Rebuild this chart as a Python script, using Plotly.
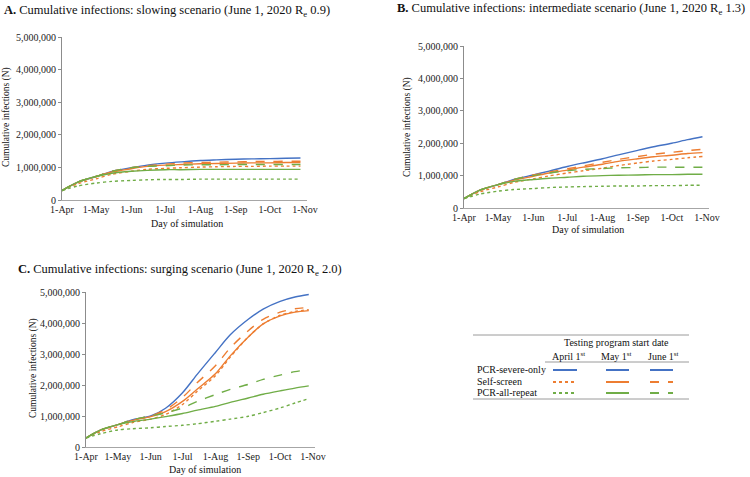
import plotly.graph_objects as go

dates = ["2020-04-01","2020-04-15","2020-05-01","2020-05-15","2020-06-01","2020-06-15",
         "2020-07-01","2020-07-15","2020-08-01","2020-08-15","2020-09-01","2020-09-15",
         "2020-10-01","2020-10-15","2020-10-28"]

# Panel A (millions)
a_blue      = [0.29,0.55,0.72,0.88,0.99,1.07,1.13,1.17,1.21,1.23,1.25,1.26,1.27,1.28,1.29]
a_or_dot    = [0.29,0.50,0.65,0.79,0.88,0.94,0.97,0.99,1.01,1.02,1.03,1.03,1.04,1.04,1.04]
a_or_sol    = [0.29,0.55,0.72,0.86,0.96,1.03,1.07,1.09,1.11,1.12,1.13,1.14,1.14,1.15,1.15]
a_or_dash   = [0.29,0.55,0.72,0.88,0.99,1.05,1.10,1.13,1.15,1.16,1.17,1.18,1.18,1.19,1.19]
a_gr_dot    = [0.29,0.43,0.52,0.57,0.60,0.62,0.63,0.63,0.64,0.64,0.64,0.64,0.64,0.64,0.64]
a_gr_sol    = [0.29,0.55,0.72,0.82,0.88,0.91,0.93,0.93,0.94,0.94,0.94,0.94,0.94,0.94,0.94]
a_gr_dash   = [0.29,0.55,0.72,0.88,0.99,1.03,1.05,1.07,1.08,1.08,1.09,1.09,1.09,1.09,1.09]

# Panel B
b_blue      = [0.29,0.55,0.72,0.88,1.02,1.14,1.28,1.39,1.52,1.64,1.78,1.89,2.00,2.11,2.20]
b_or_dot    = [0.29,0.50,0.65,0.79,0.90,0.99,1.08,1.15,1.23,1.31,1.39,1.45,1.50,1.55,1.59]
b_or_sol    = [0.29,0.55,0.72,0.86,0.98,1.08,1.17,1.26,1.35,1.44,1.52,1.58,1.63,1.68,1.71]
b_or_dash   = [0.29,0.55,0.72,0.88,1.02,1.11,1.21,1.30,1.41,1.50,1.59,1.66,1.72,1.77,1.81]
b_gr_dot    = [0.29,0.43,0.52,0.57,0.60,0.63,0.65,0.66,0.67,0.68,0.68,0.69,0.69,0.70,0.70]
b_gr_sol    = [0.29,0.55,0.72,0.82,0.88,0.92,0.95,0.98,1.00,1.01,1.02,1.03,1.03,1.04,1.04]
b_gr_dash   = [0.29,0.55,0.72,0.88,1.00,1.08,1.15,1.19,1.22,1.24,1.25,1.26,1.26,1.26,1.26]

# Panel C
c_blue      = [0.29,0.55,0.72,0.88,1.00,1.25,1.75,2.35,3.05,3.62,4.12,4.45,4.70,4.84,4.92]
c_or_dot    = [0.29,0.50,0.65,0.79,0.90,1.05,1.37,1.80,2.30,2.90,3.55,3.97,4.25,4.37,4.43]
c_or_sol    = [0.29,0.55,0.72,0.86,0.98,1.14,1.47,1.87,2.36,2.94,3.55,3.97,4.23,4.35,4.40]
c_or_dash   = [0.29,0.55,0.72,0.88,1.00,1.20,1.60,2.08,2.62,3.20,3.75,4.12,4.35,4.46,4.50]
c_gr_dot    = [0.29,0.43,0.55,0.59,0.62,0.66,0.70,0.75,0.83,0.90,0.99,1.11,1.26,1.42,1.56]
c_gr_sol    = [0.29,0.55,0.72,0.82,0.90,0.98,1.08,1.19,1.31,1.44,1.58,1.70,1.81,1.90,1.97]
c_gr_dash   = [0.29,0.55,0.72,0.88,1.00,1.10,1.26,1.47,1.69,1.86,2.02,2.18,2.32,2.43,2.49]

panel_titles = [
    "<b>A.</b> Cumulative infections: slowing scenario (June 1, 2020 R<sub>e</sub> 0.9)",
    "<b>B.</b> Cumulative infections: intermediate scenario (June 1, 2020 R<sub>e</sub> 1.3)",
    "<b>C.</b> Cumulative infections: surging scenario (June 1, 2020 R<sub>e</sub> 2.0)",
]
y_ticks = [0, 1000000, 2000000, 3000000, 4000000, 5000000]
row_labels = ["PCR-severe-only", "Self-screen", "PCR-all-repeat"]
col_labels = ["April 1<sup>st</sup>", "May 1<sup>st</sup>", "June 1<sup>st</sup>"]

BLUE, ORANGE, GREEN = "#4472C4", "#ED7D31", "#70AD47"
FONT = "Liberation Serif, Times New Roman, serif"
W, H = 750, 477

panels = [
    dict(data=[(a_blue,BLUE,"solid"),(a_or_dot,ORANGE,"dot"),(a_or_sol,ORANGE,"solid"),(a_or_dash,ORANGE,"dash"),
               (a_gr_dot,GREEN,"dot"),(a_gr_sol,GREEN,"solid"),(a_gr_dash,GREEN,"dash")],
         x0=62, xnov=305, y0=200, y5=37),
    dict(data=[(b_blue,BLUE,"solid"),(b_or_dot,ORANGE,"dot"),(b_or_sol,ORANGE,"solid"),(b_or_dash,ORANGE,"dash"),
               (b_gr_dot,GREEN,"dot"),(b_gr_sol,GREEN,"solid"),(b_gr_dash,GREEN,"dash")],
         x0=464, xnov=707, y0=208, y5=46),
    dict(data=[(c_blue,BLUE,"solid"),(c_or_dot,ORANGE,"dot"),(c_or_sol,ORANGE,"solid"),(c_or_dash,ORANGE,"dash"),
               (c_gr_dot,GREEN,"dot"),(c_gr_sol,GREEN,"solid"),(c_gr_dash,GREEN,"dash")],
         x0=86, xnov=313, y0=447, y5=292),
]

fig = go.Figure()
layout = dict(width=W, height=H, margin=dict(l=0, r=0, t=0, b=0, autoexpand=False),
              paper_bgcolor="white", plot_bgcolor="white", showlegend=False,
              font=dict(family=FONT, color="#222", size=10))
for i, p in enumerate(panels):
    k = "" if i == 0 else str(i + 1)
    for vals, col, dash in p["data"]:
        fig.add_trace(go.Scatter(x=dates, y=[v * 1e6 for v in vals], mode="lines",
                                 line=dict(color=col, width=1.4, dash=dash, shape="spline", smoothing=0.8),
                                 xaxis="x" + k, yaxis="y" + k, hoverinfo="skip"))
    span = (p["xnov"] - p["x0"]) * 216 / 214
    layout["xaxis" + k] = dict(domain=[p["x0"] / W, (p["x0"] + span) / W], anchor="y" + k,
                               type="date", range=["2020-04-01", "2020-11-03"],
                               tickvals=["2020-04-01","2020-05-01","2020-06-01","2020-07-01",
                                         "2020-08-01","2020-09-01","2020-10-01","2020-11-01"],
                               tickformat="%-d-%b", showline=True, linecolor="#A6A6A6",
                               showgrid=False, zeroline=False, ticks="", automargin=False,
                               tickfont=dict(size=10, family=FONT))
    layout["yaxis" + k] = dict(domain=[(H - p["y0"]) / H, (H - p["y5"]) / H], anchor="x" + k,
                               range=[0, 5e6], tickvals=y_ticks, tickformat=",", showline=True,
                               linecolor="#8C8C8C", showgrid=False, zeroline=False, ticks="outside",
                               ticklen=3, tickcolor="#8C8C8C", automargin=False,
                               tickfont=dict(size=10, family=FONT))

fig.update_layout(**layout)

ann = []
def A(x, y, text, size=10, xanchor="center", yanchor="middle", angle=0):
    ann.append(dict(x=x / W, y=1 - y / H, xref="paper", yref="paper", text=text, showarrow=False,
                    xanchor=xanchor, yanchor=yanchor, textangle=angle,
                    font=dict(family=FONT, size=size, color="#111")))

A(2, 11, panel_titles[0], size=12.5, xanchor="left")
A(395, 9, panel_titles[1], size=12.5, xanchor="left")
A(16, 270, panel_titles[2], size=12.5, xanchor="left")
A(7, 117, "Cumulative infections (N)", size=9.5, angle=-90)
A(408, 127, "Cumulative infections (N)", size=9.5, angle=-90)
A(33, 368, "Cumulative infections (N)", size=9.5, angle=-90)
A(187, 223, "Day of simulation", size=10)
A(588, 229, "Day of simulation", size=10)
A(205, 469, "Day of simulation", size=10)

# Legend table
A(616, 342, "Testing program start date", size=10)
col_x = [568, 616, 663]
for cx, lab in zip(col_x, col_labels):
    A(cx, 356, lab, size=10)
row_y = [369, 381, 392]
for ry, lab in zip(row_y, row_labels):
    A(475, ry, lab, size=10, xanchor="left")

shapes = []
def L(x0, y0, x1, y1, color, width=1, dash="solid"):
    shapes.append(dict(type="line", xref="paper", yref="paper", x0=x0 / W, x1=x1 / W,
                       y0=1 - y0 / H, y1=1 - y1 / H, line=dict(color=color, width=width, dash=dash)))

L(473, 335, 689, 335, "#9A9A9A", 1)
L(545, 362, 689, 362, "#9A9A9A", 1)
L(473, 399, 689, 399, "#9A9A9A", 1)
seg = [(553, 577), (606, 629), (650, 673)]
row_styles = [[(BLUE,"solid"),(BLUE,"solid"),(BLUE,"solid")],
              [(ORANGE,"dot"),(ORANGE,"solid"),(ORANGE,"dash")],
              [(GREEN,"dot"),(GREEN,"solid"),(GREEN,"dash")]]
for ry, styles in zip(row_y, row_styles):
    for (sx0, sx1), (col, dash) in zip(seg, styles):
        L(sx0, ry + 1, sx1, ry + 1, col, 2, dash)

fig.update_layout(annotations=ann, shapes=shapes)
fig.write_html("out.html", config={"displayModeBar": False},
               post_script="document.body.style.margin='0';document.body.style.overflow='hidden';")
